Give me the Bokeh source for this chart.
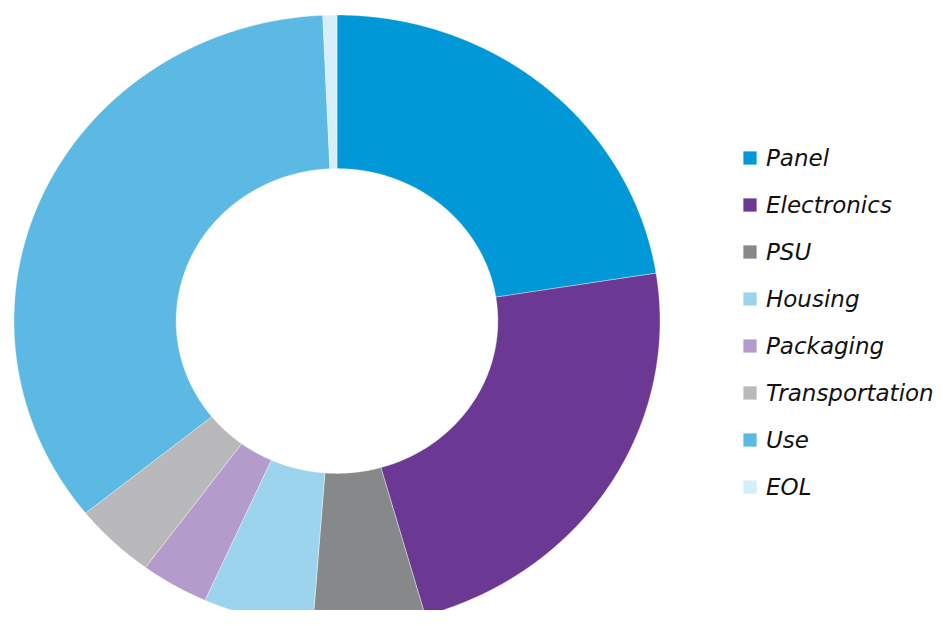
import numpy as np
from bokeh.plotting import figure
from bokeh.models import Range1d, Legend, LegendItem, ColumnDataSource
from bokeh.embed import file_html
from bokeh.resources import INLINE

# ---- data ----
categories = ["Panel", "Electronics", "PSU", "Housing", "Packaging",
              "Transportation", "Use", "EOL"]
shares = [22.5, 23.1, 5.6, 5.5, 3.4, 4.1, 35.1, 0.7]
colors = ["#0098D6", "#6B3994", "#87888A", "#9CD4EE", "#B39BCB",
          "#B9B9BB", "#5CB9E3", "#D5EEFA"]

# ---- layout ----
W, H = 936, 610
cx_px, cy_px = 336.5, 320.5      # donut centre, from frame top-left
rx_px, ry_px = 323.0, 306.0      # outer radii in px
inner = 0.498                     # inner / outer radius

p = figure(width=W, height=H, output_backend="svg", toolbar_location=None,
           x_range=Range1d(-cx_px / rx_px, (W - cx_px) / rx_px),
           y_range=Range1d(-(H - cy_px) / ry_px, cy_px / ry_px),
           x_axis_type=None, y_axis_type=None, min_border=0)
p.grid.visible = False
p.outline_line_color = None
p.background_fill_color = "white"
p.border_fill_color = "white"

total = float(sum(shares))
edges = np.concatenate([[0.0], np.cumsum(shares)]) / total * 2 * np.pi
xs, ys = [], []
for a0, a1 in zip(edges[:-1], edges[1:]):
    n = max(4, int(np.degrees(a1 - a0) * 3))
    t = np.linspace(a0, a1, n)
    xs.append(np.concatenate([np.sin(t), inner * np.sin(t[::-1])]))
    ys.append(np.concatenate([np.cos(t), inner * np.cos(t[::-1])]))

src = ColumnDataSource(dict(xs=xs, ys=ys, color=colors, label=categories))
r = p.patches("xs", "ys", source=src, fill_color="color",
              line_color="white", line_width=0.6, line_alpha=0.6)

items = [LegendItem(label=c, renderers=[r], index=i) for i, c in enumerate(categories)]
legend = Legend(items=items, location=(741, 110), glyph_width=17, glyph_height=17,
                label_standoff=8, spacing=20, padding=0, margin=0,
                border_line_color=None, background_fill_alpha=0,
                label_text_font="DejaVu Sans", label_text_font_style="italic",
                label_text_font_size="23px", label_text_color="#111111",
                label_height=27)
p.add_layout(legend)

open("out.html", "w").write(file_html(p, INLINE))
